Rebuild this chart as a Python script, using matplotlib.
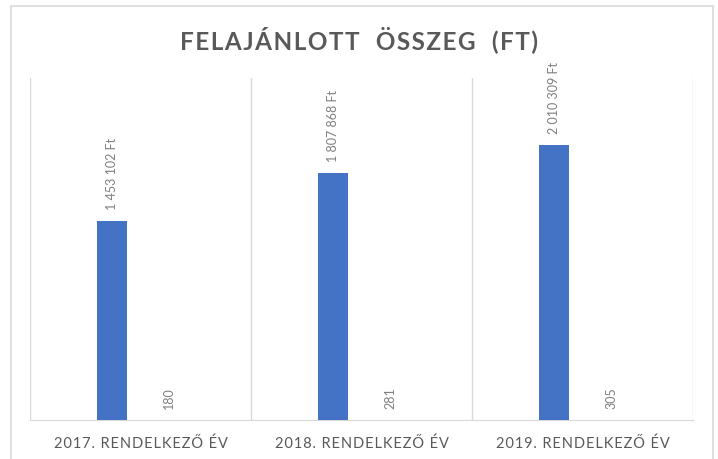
import matplotlib
matplotlib.use("Agg")
import matplotlib.pyplot as plt
from matplotlib.patches import Rectangle
import numpy as np

plt.rcParams['font.family'] = ['Lato', 'DejaVu Sans']

# data
categories = ["2017. RENDELKEZŐ ÉV", "2018. RENDELKEZŐ ÉV", "2019. RENDELKEZŐ ÉV"]
osszeg = [1453102, 1807868, 2010309]   # Ft
darab = [180, 281, 305]                 # felajánlók száma

title = "FELAJÁNLOTT  ÖSSZEG  (FT)"
gray_txt = "#595959"
label_gray = "#7f7f7f"
grid_gray = "#d9d9d9"


def fmt_ft(v):
    return "{:,}".format(v).replace(",", " ") + " Ft"


def spaced(s, sep="\u200a"):
    # Excel-style letter spacing
    return sep.join(s)


fig = plt.figure(figsize=(7.18, 4.59), dpi=100)
ax = fig.add_axes([30 / 718, 39 / 459, 663 / 718, 342 / 459])

x = np.arange(len(categories))
w = 0.136
off = 0.129

b1 = ax.bar(x - off, osszeg, width=w, color="#4472c4", zorder=3)
b2 = ax.bar(x + off, darab, width=w, color="#ed7d31", zorder=3)

for rect, v in zip(b1, osszeg):
    ax.annotate(fmt_ft(v), (rect.get_x() + rect.get_width() / 2, v),
                xytext=(0, 8), textcoords="offset points",
                rotation=90, ha="center", va="bottom",
                fontsize=9, color=label_gray)
for rect, v in zip(b2, darab):
    ax.annotate(str(v), (rect.get_x() + rect.get_width() / 2, v),
                xytext=(0, 8), textcoords="offset points",
                rotation=90, ha="center", va="bottom",
                fontsize=9, color=label_gray)

ax.set_xlim(-0.5, len(categories) - 0.5)
ax.set_ylim(0, 2500000)

# category separators
for b in np.arange(-0.5, len(categories), 1.0):
    ax.axvline(b, color=grid_gray, lw=1, zorder=1)

for s in ["top", "left", "right"]:
    ax.spines[s].set_visible(False)
ax.spines["bottom"].set_color(grid_gray)
ax.set_yticks([])
ax.set_xticks(x)
ax.set_xticklabels([spaced(c) for c in categories], fontsize=10.5, color=gray_txt)
ax.tick_params(axis="x", length=0, pad=12)

fig.text(0.5, 1 - 40 / 459, spaced(title), ha="center", va="center",
         fontsize=17.5, fontweight="bold", color=gray_txt)

# outer chart border
fig.patches.append(Rectangle((10.5 / 718, -0.02), 702 / 718, 1.02 - 6 / 459,
                             transform=fig.transFigure, fill=False,
                             edgecolor=grid_gray, lw=1.2))

fig.savefig("out.png", dpi=100)
